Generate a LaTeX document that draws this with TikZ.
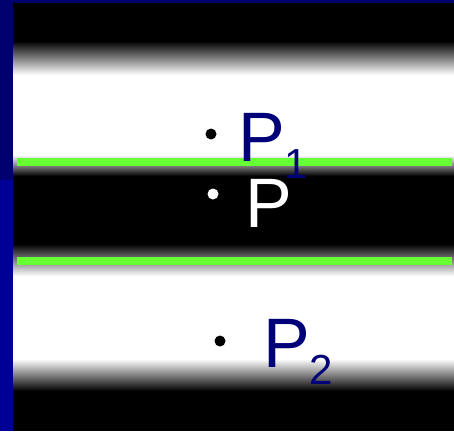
\documentclass[tikz,border=0pt]{standalone}
\usepackage{fontspec}
\setmainfont{Liberation Sans}
\definecolor{navyA}{RGB}{0,0,110}
\definecolor{blueB}{RGB}{0,0,150}
\definecolor{labnavy}{RGB}{0,0,120}
\definecolor{limeg}{RGB}{102,255,51}
\tikzset{
  greenline/.style={fill=limeg, draw=none},
  dotmark/.style={circle, inner sep=0pt, minimum size=11pt, draw=none},
  biglabel/.style={anchor=base west, inner sep=0pt, font=\fontsize{70}{70}\selectfont},
}
\newcommand{\subnum}[1]{\raisebox{-17pt}{\fontsize{42}{42}\selectfont #1}}
\begin{document}
\begin{tikzpicture}[x=1pt,y=-1pt]
\useasboundingbox (0,0) rectangle (454,431);
\fill[white] (0,0) rectangle (454,431);
% top dark band
\fill[black] (13,3) rectangle (454,41);
\shade[top color=black, bottom color=white] (13,41) rectangle (454,75);
% middle band
\shade[top color=white, bottom color=black] (13,155) rectangle (454,176);
\fill[black] (13,176) rectangle (454,244);
\shade[top color=black, bottom color=white] (13,244) rectangle (454,276);
% bottom band
\shade[top color=white, bottom color=black] (13,359) rectangle (454,391);
\fill[black] (13,391) rectangle (454,431);
% borders
\fill[blueB] (0,180) rectangle (13,431);
\fill[navyA] (0,0) rectangle (13,180);
\fill[navyA] (0,0) rectangle (454,3);
% green lines
\fill[greenline] (17,158) rectangle (452,166);
\fill[greenline] (17,257) rectangle (452,265);
% points
\node[dotmark, fill=black] (d1) at (211,134) {};
\node[dotmark, fill=white] (d0) at (213,194) {};
\node[dotmark, fill=black] (d2) at (220,341) {};
% labels
\node[biglabel, text=labnavy] (p1) at (238,161) {P\subnum{1}};
\node[biglabel, text=white] (p0) at (245,227) {P};
\node[biglabel, text=labnavy] (p2) at (263,367) {P\subnum{2}};
\end{tikzpicture}
\end{document}
